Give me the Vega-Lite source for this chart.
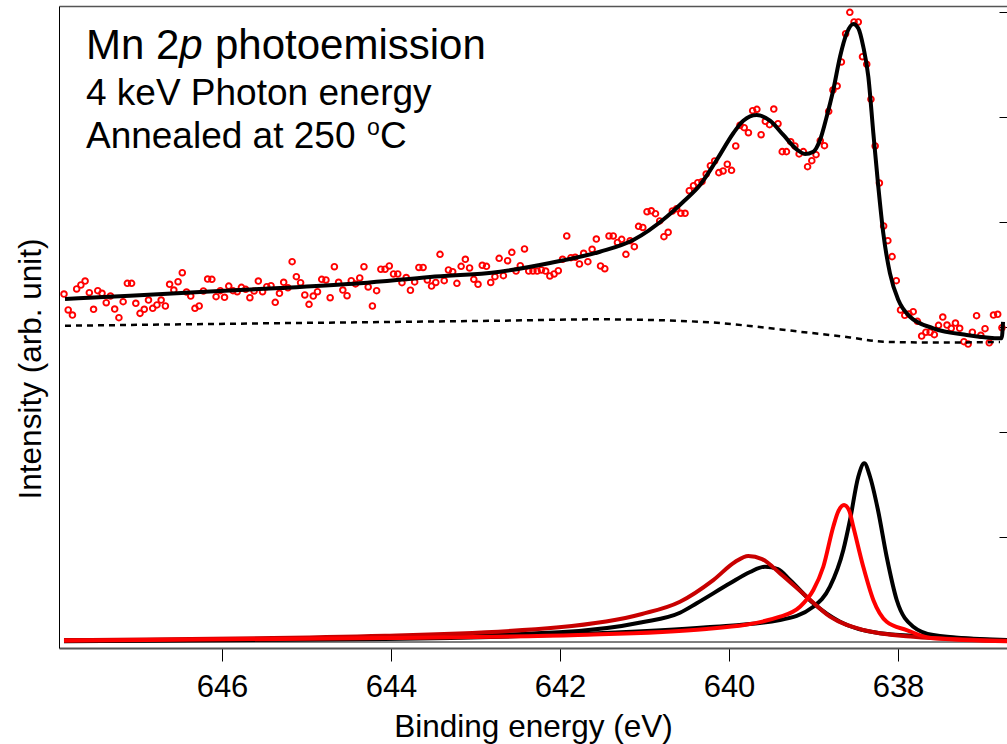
{
  "$schema": "https://vega.github.io/schema/vega-lite/v6.json",
  "width": 948,
  "height": 642,
  "autosize": {"type": "none"},
  "padding": {"left": 59, "top": 6, "right": 0, "bottom": 96},
  "background": "white",
  "config": {"view": {"stroke": null}, "font": "Liberation Sans"},
  "datasets": {
    "pts": [
      {"x":647.87,"y":3.314},{"x":647.82,"y":3.162},{"x":647.77,"y":3.114},{"x":647.72,"y":3.362},{"x":647.67,"y":3.400},
      {"x":647.62,"y":3.438},{"x":647.57,"y":3.327},{"x":647.52,"y":3.169},{"x":647.47,"y":3.346},{"x":647.42,"y":3.321},
      {"x":647.37,"y":3.231},{"x":647.32,"y":3.295},{"x":647.27,"y":3.171},{"x":647.22,"y":3.089},{"x":647.17,"y":3.241},
      {"x":647.12,"y":3.416},{"x":647.07,"y":3.416},{"x":647.02,"y":3.226},{"x":646.97,"y":3.130},{"x":646.92,"y":3.169},
      {"x":646.87,"y":3.257},{"x":646.82,"y":3.178},{"x":646.77,"y":3.210},{"x":646.72,"y":3.257},{"x":646.67,"y":3.200},
      {"x":646.62,"y":3.407},{"x":646.57,"y":3.352},{"x":646.52,"y":3.431},{"x":646.47,"y":3.517},{"x":646.42,"y":3.333},
      {"x":646.37,"y":3.295},{"x":646.32,"y":3.178},{"x":646.27,"y":3.200},{"x":646.22,"y":3.343},{"x":646.17,"y":3.457},
      {"x":646.12,"y":3.454},{"x":646.07,"y":3.289},{"x":646.02,"y":3.346},{"x":645.97,"y":3.283},{"x":645.92,"y":3.390},
      {"x":645.87,"y":3.346},{"x":645.82,"y":3.336},{"x":645.77,"y":3.378},{"x":645.72,"y":3.359},{"x":645.67,"y":3.279},
      {"x":645.62,"y":3.343},{"x":645.57,"y":3.438},{"x":645.52,"y":3.336},{"x":645.47,"y":3.384},{"x":645.42,"y":3.393},
      {"x":645.37,"y":3.235},{"x":645.32,"y":3.321},{"x":645.27,"y":3.426},{"x":645.22,"y":3.374},{"x":645.17,"y":3.622},
      {"x":645.12,"y":3.479},{"x":645.07,"y":3.422},{"x":645.02,"y":3.305},{"x":644.97,"y":3.216},{"x":644.92,"y":3.295},
      {"x":644.87,"y":3.336},{"x":644.82,"y":3.454},{"x":644.77,"y":3.448},{"x":644.72,"y":3.279},{"x":644.67,"y":3.574},
      {"x":644.62,"y":3.426},{"x":644.57,"y":3.352},{"x":644.52,"y":3.298},{"x":644.47,"y":3.441},{"x":644.42,"y":3.410},
      {"x":644.37,"y":3.467},{"x":644.32,"y":3.574},{"x":644.27,"y":3.381},{"x":644.22,"y":3.200},{"x":644.17,"y":3.346},
      {"x":644.12,"y":3.550},{"x":644.07,"y":3.550},{"x":644.02,"y":3.581},{"x":643.97,"y":3.505},{"x":643.92,"y":3.505},
      {"x":643.87,"y":3.422},{"x":643.82,"y":3.471},{"x":643.77,"y":3.350},{"x":643.72,"y":3.429},{"x":643.67,"y":3.567},
      {"x":643.62,"y":3.567},{"x":643.57,"y":3.448},{"x":643.52,"y":3.390},{"x":643.47,"y":3.424},{"x":643.42,"y":3.692},
      {"x":643.37,"y":3.441},{"x":643.32,"y":3.543},{"x":643.27,"y":3.527},{"x":643.22,"y":3.416},{"x":643.17,"y":3.578},
      {"x":643.12,"y":3.645},{"x":643.07,"y":3.562},{"x":643.02,"y":3.454},{"x":642.97,"y":3.407},{"x":642.92,"y":3.588},
      {"x":642.87,"y":3.578},{"x":642.82,"y":3.424},{"x":642.77,"y":3.479},{"x":642.72,"y":3.654},{"x":642.67,"y":3.489},
      {"x":642.62,"y":3.631},{"x":642.57,"y":3.711},{"x":642.52,"y":3.533},{"x":642.47,"y":3.584},{"x":642.42,"y":3.743},
      {"x":642.37,"y":3.533},{"x":642.32,"y":3.533},{"x":642.27,"y":3.533},{"x":642.22,"y":3.543},{"x":642.17,"y":3.533},
      {"x":642.12,"y":3.486},{"x":642.07,"y":3.505},{"x":642.02,"y":3.536},{"x":641.97,"y":3.645},{"x":641.92,"y":3.867},
      {"x":641.87,"y":3.660},{"x":641.82,"y":3.664},{"x":641.77,"y":3.600},{"x":641.72,"y":3.702},{"x":641.67,"y":3.622},
      {"x":641.62,"y":3.740},{"x":641.57,"y":3.838},{"x":641.52,"y":3.581},{"x":641.47,"y":3.555},{"x":641.42,"y":3.867},
      {"x":641.37,"y":3.867},{"x":641.32,"y":3.805},{"x":641.27,"y":3.835},{"x":641.22,"y":3.692},{"x":641.17,"y":3.822},
      {"x":641.12,"y":3.765},{"x":641.07,"y":3.959},{"x":641.02,"y":3.948},{"x":640.97,"y":4.098},{"x":640.92,"y":4.107},
      {"x":640.87,"y":4.079},{"x":640.82,"y":4.010},{"x":640.77,"y":3.860},{"x":640.72,"y":3.902},{"x":640.67,"y":4.105},
      {"x":640.62,"y":4.126},{"x":640.57,"y":4.083},{"x":640.52,"y":4.083},{"x":640.47,"y":4.298},{"x":640.42,"y":4.346},
      {"x":640.37,"y":4.374},{"x":640.32,"y":4.384},{"x":640.27,"y":4.457},{"x":640.22,"y":4.536},{"x":640.17,"y":4.581},
      {"x":640.12,"y":4.470},{"x":640.07,"y":4.486},{"x":640.02,"y":4.550},{"x":639.97,"y":4.492},{"x":639.92,"y":4.724},
      {"x":639.87,"y":4.921},{"x":639.82,"y":4.898},{"x":639.77,"y":4.850},{"x":639.72,"y":5.060},{"x":639.67,"y":5.073},
      {"x":639.62,"y":4.831},{"x":639.57,"y":4.959},{"x":639.52,"y":4.927},{"x":639.47,"y":5.076},{"x":639.42,"y":4.936},
      {"x":639.37,"y":4.670},{"x":639.32,"y":4.670},{"x":639.27,"y":4.765},{"x":639.22,"y":4.724},{"x":639.17,"y":4.648},
      {"x":639.12,"y":4.670},{"x":639.07,"y":4.527},{"x":639.02,"y":4.584},{"x":638.97,"y":4.641},{"x":638.92,"y":4.774},
      {"x":638.87,"y":4.727},{"x":638.82,"y":5.054},{"x":638.77,"y":5.257},{"x":638.72,"y":5.295},{"x":638.67,"y":5.524},
      {"x":638.62,"y":5.793},{"x":638.57,"y":5.997},{"x":638.52,"y":5.905},{"x":638.47,"y":5.905},{"x":638.42,"y":5.574},
      {"x":638.37,"y":5.502},{"x":638.32,"y":5.169},{"x":638.27,"y":4.724},{"x":638.22,"y":4.371},{"x":638.17,"y":3.962},
      {"x":638.12,"y":3.822},{"x":638.07,"y":3.670},{"x":638.02,"y":3.441},{"x":637.97,"y":3.162},{"x":637.92,"y":3.111},
      {"x":637.87,"y":3.124},{"x":637.82,"y":3.146},{"x":637.77,"y":3.054},{"x":637.72,"y":2.914},{"x":637.67,"y":2.950},
      {"x":637.62,"y":2.950},{"x":637.57,"y":2.927},{"x":637.52,"y":3.016},{"x":637.47,"y":3.095},{"x":637.42,"y":3.019},
      {"x":637.37,"y":2.988},{"x":637.32,"y":3.038},{"x":637.27,"y":2.988},{"x":637.22,"y":2.860},{"x":637.17,"y":2.838},
      {"x":637.12,"y":2.950},{"x":637.07,"y":3.108},{"x":637.02,"y":2.921},{"x":636.97,"y":2.984},{"x":636.92,"y":2.850},
      {"x":636.87,"y":3.114},{"x":636.82,"y":3.121},{"x":636.77,"y":2.993}
    ],
    "fit": [
      {"x":647.858,"y":3.267},{"x":647.089,"y":3.297},{"x":646.260,"y":3.333},{"x":645.314,"y":3.371},{"x":644.367,"y":3.416},
      {"x":643.538,"y":3.476},{"x":642.710,"y":3.527},{"x":642.118,"y":3.610},{"x":641.527,"y":3.717},{"x":641.133,"y":3.829},
      {"x":640.737,"y":4.050},{"x":640.541,"y":4.193},{"x":640.343,"y":4.352},{"x":640.146,"y":4.590},{"x":639.949,"y":4.845},
      {"x":639.831,"y":4.965},{"x":639.672,"y":5.019},{"x":639.515,"y":4.965},{"x":639.357,"y":4.829},{"x":639.199,"y":4.692},
      {"x":639.101,"y":4.648},{"x":639.002,"y":4.670},{"x":638.923,"y":4.781},{"x":638.844,"y":5.003},{"x":638.766,"y":5.257},
      {"x":638.686,"y":5.574},{"x":638.607,"y":5.797},{"x":638.529,"y":5.886},{"x":638.470,"y":5.845},{"x":638.411,"y":5.670},
      {"x":638.351,"y":5.384},{"x":638.292,"y":4.848},{"x":638.233,"y":4.336},{"x":638.174,"y":3.892},{"x":638.095,"y":3.511},
      {"x":637.996,"y":3.257},{"x":637.858,"y":3.098},{"x":637.582,"y":2.988},{"x":637.187,"y":2.924},{"x":636.773,"y":2.892},
      {"x":636.757,"y":3.048}
    ],
    "bg": [
      {"x":647.858,"y":3.012},{"x":645.471,"y":3.035},{"x":642.710,"y":3.060},{"x":641.527,"y":3.073},{"x":640.343,"y":3.050},
      {"x":639.751,"y":3.010},{"x":639.160,"y":2.955},{"x":638.568,"y":2.901},{"x":638.174,"y":2.860},{"x":637.582,"y":2.852},
      {"x":636.793,"y":2.857}
    ],
    "zero": [{"x":647.87,"y":0},{"x":636.71,"y":0}],
    "comp": [
      {"c":"bb","x":647.87,"y":0.012},{"c":"bb","x":644.071,"y":0.045},{"c":"bb","x":642.012,"y":0.092},{"c":"bb","x":641.030,"y":0.188},
      {"c":"bb","x":640.580,"y":0.279},{"c":"bb","x":640.382,"y":0.369},{"c":"bb","x":639.988,"y":0.559},{"c":"bb","x":639.751,"y":0.667},
      {"c":"bb","x":639.574,"y":0.717},{"c":"bb","x":639.420,"y":0.695},{"c":"bb","x":639.278,"y":0.590},{"c":"bb","x":639.002,"y":0.369},
      {"c":"bb","x":638.686,"y":0.193},{"c":"bb","x":638.213,"y":0.083},{"c":"bb","x":637.740,"y":0.057},{"c":"bb","x":636.71,"y":0.019},
      {"c":"bs","x":647.87,"y":0.007},{"c":"bs","x":644.071,"y":0.029},{"c":"bs","x":641.787,"y":0.076},{"c":"bs","x":640.266,"y":0.140},
      {"c":"bs","x":639.396,"y":0.210},{"c":"bs","x":639.002,"y":0.336},{"c":"bs","x":638.805,"y":0.527},{"c":"bs","x":638.647,"y":0.876},
      {"c":"bs","x":638.568,"y":1.162},{"c":"bs","x":638.470,"y":1.574},{"c":"bs","x":638.399,"y":1.702},{"c":"bs","x":638.331,"y":1.574},
      {"c":"bs","x":638.237,"y":1.257},{"c":"bs","x":638.134,"y":0.812},{"c":"bs","x":638.015,"y":0.400},{"c":"bs","x":637.819,"y":0.146},
      {"c":"bs","x":637.582,"y":0.067},{"c":"bs","x":636.71,"y":0.012},
      {"c":"rb","x":647.87,"y":0.019},{"c":"rb","x":644.071,"y":0.060},{"c":"rb","x":642.012,"y":0.140},{"c":"rb","x":641.030,"y":0.267},
      {"c":"rb","x":640.580,"y":0.384},{"c":"rb","x":640.186,"y":0.590},{"c":"rb","x":639.929,"y":0.762},{"c":"rb","x":639.772,"y":0.819},
      {"c":"rb","x":639.609,"y":0.790},{"c":"rb","x":639.396,"y":0.654},{"c":"rb","x":639.081,"y":0.431},{"c":"rb","x":638.805,"y":0.241},
      {"c":"rb","x":638.411,"y":0.114},{"c":"rb","x":637.819,"y":0.050},{"c":"rb","x":636.71,"y":0.012},
      {"c":"rs","x":647.87,"y":0.012},{"c":"rs","x":644.071,"y":0.038},{"c":"rs","x":641.787,"y":0.067},{"c":"rs","x":640.266,"y":0.124},
      {"c":"rs","x":639.396,"y":0.241},{"c":"rs","x":639.160,"y":0.336},{"c":"rs","x":639.002,"y":0.495},{"c":"rs","x":638.884,"y":0.717},
      {"c":"rs","x":638.766,"y":1.098},{"c":"rs","x":638.710,"y":1.238},{"c":"rs","x":638.639,"y":1.305},{"c":"rs","x":638.580,"y":1.257},
      {"c":"rs","x":638.529,"y":1.098},{"c":"rs","x":638.411,"y":0.717},{"c":"rs","x":638.292,"y":0.400},{"c":"rs","x":638.134,"y":0.193},
      {"c":"rs","x":637.897,"y":0.114},{"c":"rs","x":637.609,"y":0.038},{"c":"rs","x":636.71,"y":0.007}
    ]
  },
  "layer": [
    {
      "data": {"name": "pts"},
      "mark": {"type": "point", "shape": "circle", "filled": false, "stroke": "#ff0000", "strokeWidth": 1.9, "size": 32, "opacity": 1},
      "encoding": {
        "x": {"field": "x", "type": "quantitative",
          "scale": {"domain": [636.71, 647.929], "reverse": true, "nice": false, "zero": false},
          "axis": {"orient": "bottom", "values": [646, 644, 642, 640, 638], "format": "d", "grid": false,
            "labelFont": "Liberation Sans", "labelFontSize": 31, "labelColor": "#000", "labelBaseline": "alphabetic",
            "labelPadding": 35.5, "labelFlush": false, "labelOverlap": false,
            "tickSize": 13, "tickColor": "#000", "tickWidth": 1,
            "domainColor": "#555", "domainWidth": 2,
            "title": "Binding energy (eV)", "titleFont": "Liberation Sans", "titleFontSize": 31.5, "titleFontWeight": "normal",
            "titleColor": "#000", "titleBaseline": "alphabetic", "titleY": 88.7}},
        "y": {"field": "y", "type": "quantitative",
          "scale": {"domain": [-0.057, 6.057], "nice": false, "zero": false},
          "axis": {"orient": "left", "labels": false, "ticks": false, "grid": false,
            "domainColor": "#000", "domainWidth": 1,
            "title": "Intensity (arb. unit)", "titleFont": "Liberation Sans", "titleFontSize": 31.5, "titleFontWeight": "normal",
            "titleColor": "#000", "titleAngle": 270, "titleBaseline": "alphabetic", "titleAlign": "center",
            "titleX": -19, "titleY": 362.5}}
      }
    },
    {
      "data": {"name": "fit"},
      "mark": {"type": "line", "color": "#000", "strokeWidth": 4, "interpolate": "monotone"},
      "encoding": {
        "x": {"field": "x", "type": "quantitative",
          "scale": {"domain": [636.71, 647.929], "reverse": true, "nice": false, "zero": false},
          "axis": {"orient": "top", "labels": false, "ticks": false, "grid": false, "domainColor": "#555", "domainWidth": 1.5, "title": null}},
        "y": {"field": "y", "type": "quantitative",
          "scale": {"domain": [-0.057, 6.057], "nice": false, "zero": false},
          "axis": {"orient": "right", "values": [1, 2, 3, 4, 5, 6], "labels": false, "grid": false, "domain": false,
            "ticks": true, "tickSize": -8, "tickColor": "#000", "tickWidth": 1, "title": null}}
      }
    },
    {
      "data": {"name": "zero"},
      "mark": {"type": "line", "color": "#000", "strokeWidth": 1},
      "encoding": {
        "x": {"field": "x", "type": "quantitative", "axis": null},
        "y": {"field": "y", "type": "quantitative", "axis": null}
      }
    },
    {
      "data": {"name": "bg"},
      "mark": {"type": "line", "color": "#000", "strokeWidth": 2.5, "strokeDash": [6, 5], "interpolate": "monotone"},
      "encoding": {
        "x": {"field": "x", "type": "quantitative", "axis": null},
        "y": {"field": "y", "type": "quantitative", "axis": null}
      }
    },
    {
      "data": {"name": "comp"},
      "mark": {"type": "line", "strokeWidth": 4, "interpolate": "monotone"},
      "encoding": {
        "x": {"field": "x", "type": "quantitative", "axis": null},
        "y": {"field": "y", "type": "quantitative", "axis": null},
        "color": {"field": "c", "type": "nominal", "legend": null,
          "scale": {"domain": ["bb", "bs", "rb", "rs"], "range": ["#000000", "#000000", "#c80000", "#ff0000"]}}
      }
    },
    {
      "data": {"values": [{"t": "Mn 2"}]},
      "mark": {"type": "text", "font": "Liberation Sans", "fontSize": 42, "align": "left", "baseline": "alphabetic", "color": "#000"},
      "encoding": {"x": {"datum": 647.61, "type": "quantitative", "axis": null}, "y": {"datum": 5.55, "type": "quantitative", "axis": null}, "text": {"field": "t"}}
    },
    {
      "data": {"values": [{"t": "p"}]},
      "mark": {"type": "text", "font": "Liberation Sans", "fontSize": 42, "fontStyle": "italic", "align": "left", "baseline": "alphabetic", "color": "#000", "dx": 93.4},
      "encoding": {"x": {"datum": 647.61, "type": "quantitative", "axis": null}, "y": {"datum": 5.55, "type": "quantitative", "axis": null}, "text": {"field": "t"}}
    },
    {
      "data": {"values": [{"t": "photoemission"}]},
      "mark": {"type": "text", "font": "Liberation Sans", "fontSize": 42, "align": "left", "baseline": "alphabetic", "color": "#000", "dx": 129},
      "encoding": {"x": {"datum": 647.61, "type": "quantitative", "axis": null}, "y": {"datum": 5.55, "type": "quantitative", "axis": null}, "text": {"field": "t"}}
    },
    {
      "data": {"values": [{"t": "4 keV Photon energy"}]},
      "mark": {"type": "text", "font": "Liberation Sans", "fontSize": 37, "align": "left", "baseline": "alphabetic", "color": "#000"},
      "encoding": {"x": {"datum": 647.61, "type": "quantitative", "axis": null}, "y": {"datum": 5.114, "type": "quantitative", "axis": null}, "text": {"field": "t"}}
    },
    {
      "data": {"values": [{"t": "Annealed at 250"}]},
      "mark": {"type": "text", "font": "Liberation Sans", "fontSize": 37, "align": "left", "baseline": "alphabetic", "color": "#000"},
      "encoding": {"x": {"datum": 647.61, "type": "quantitative", "axis": null}, "y": {"datum": 4.702, "type": "quantitative", "axis": null}, "text": {"field": "t"}}
    },
    {
      "data": {"values": [{"t": "o"}]},
      "mark": {"type": "text", "font": "Liberation Sans", "fontSize": 23, "align": "left", "baseline": "alphabetic", "color": "#000", "dx": 281},
      "encoding": {"x": {"datum": 647.61, "type": "quantitative", "axis": null}, "y": {"datum": 4.83, "type": "quantitative", "axis": null}, "text": {"field": "t"}}
    },
    {
      "data": {"values": [{"t": "C"}]},
      "mark": {"type": "text", "font": "Liberation Sans", "fontSize": 37, "align": "left", "baseline": "alphabetic", "color": "#000", "dx": 294},
      "encoding": {"x": {"datum": 647.61, "type": "quantitative", "axis": null}, "y": {"datum": 4.702, "type": "quantitative", "axis": null}, "text": {"field": "t"}}
    }
  ],
  "resolve": {"axis": {"x": "independent", "y": "independent"}}
}
